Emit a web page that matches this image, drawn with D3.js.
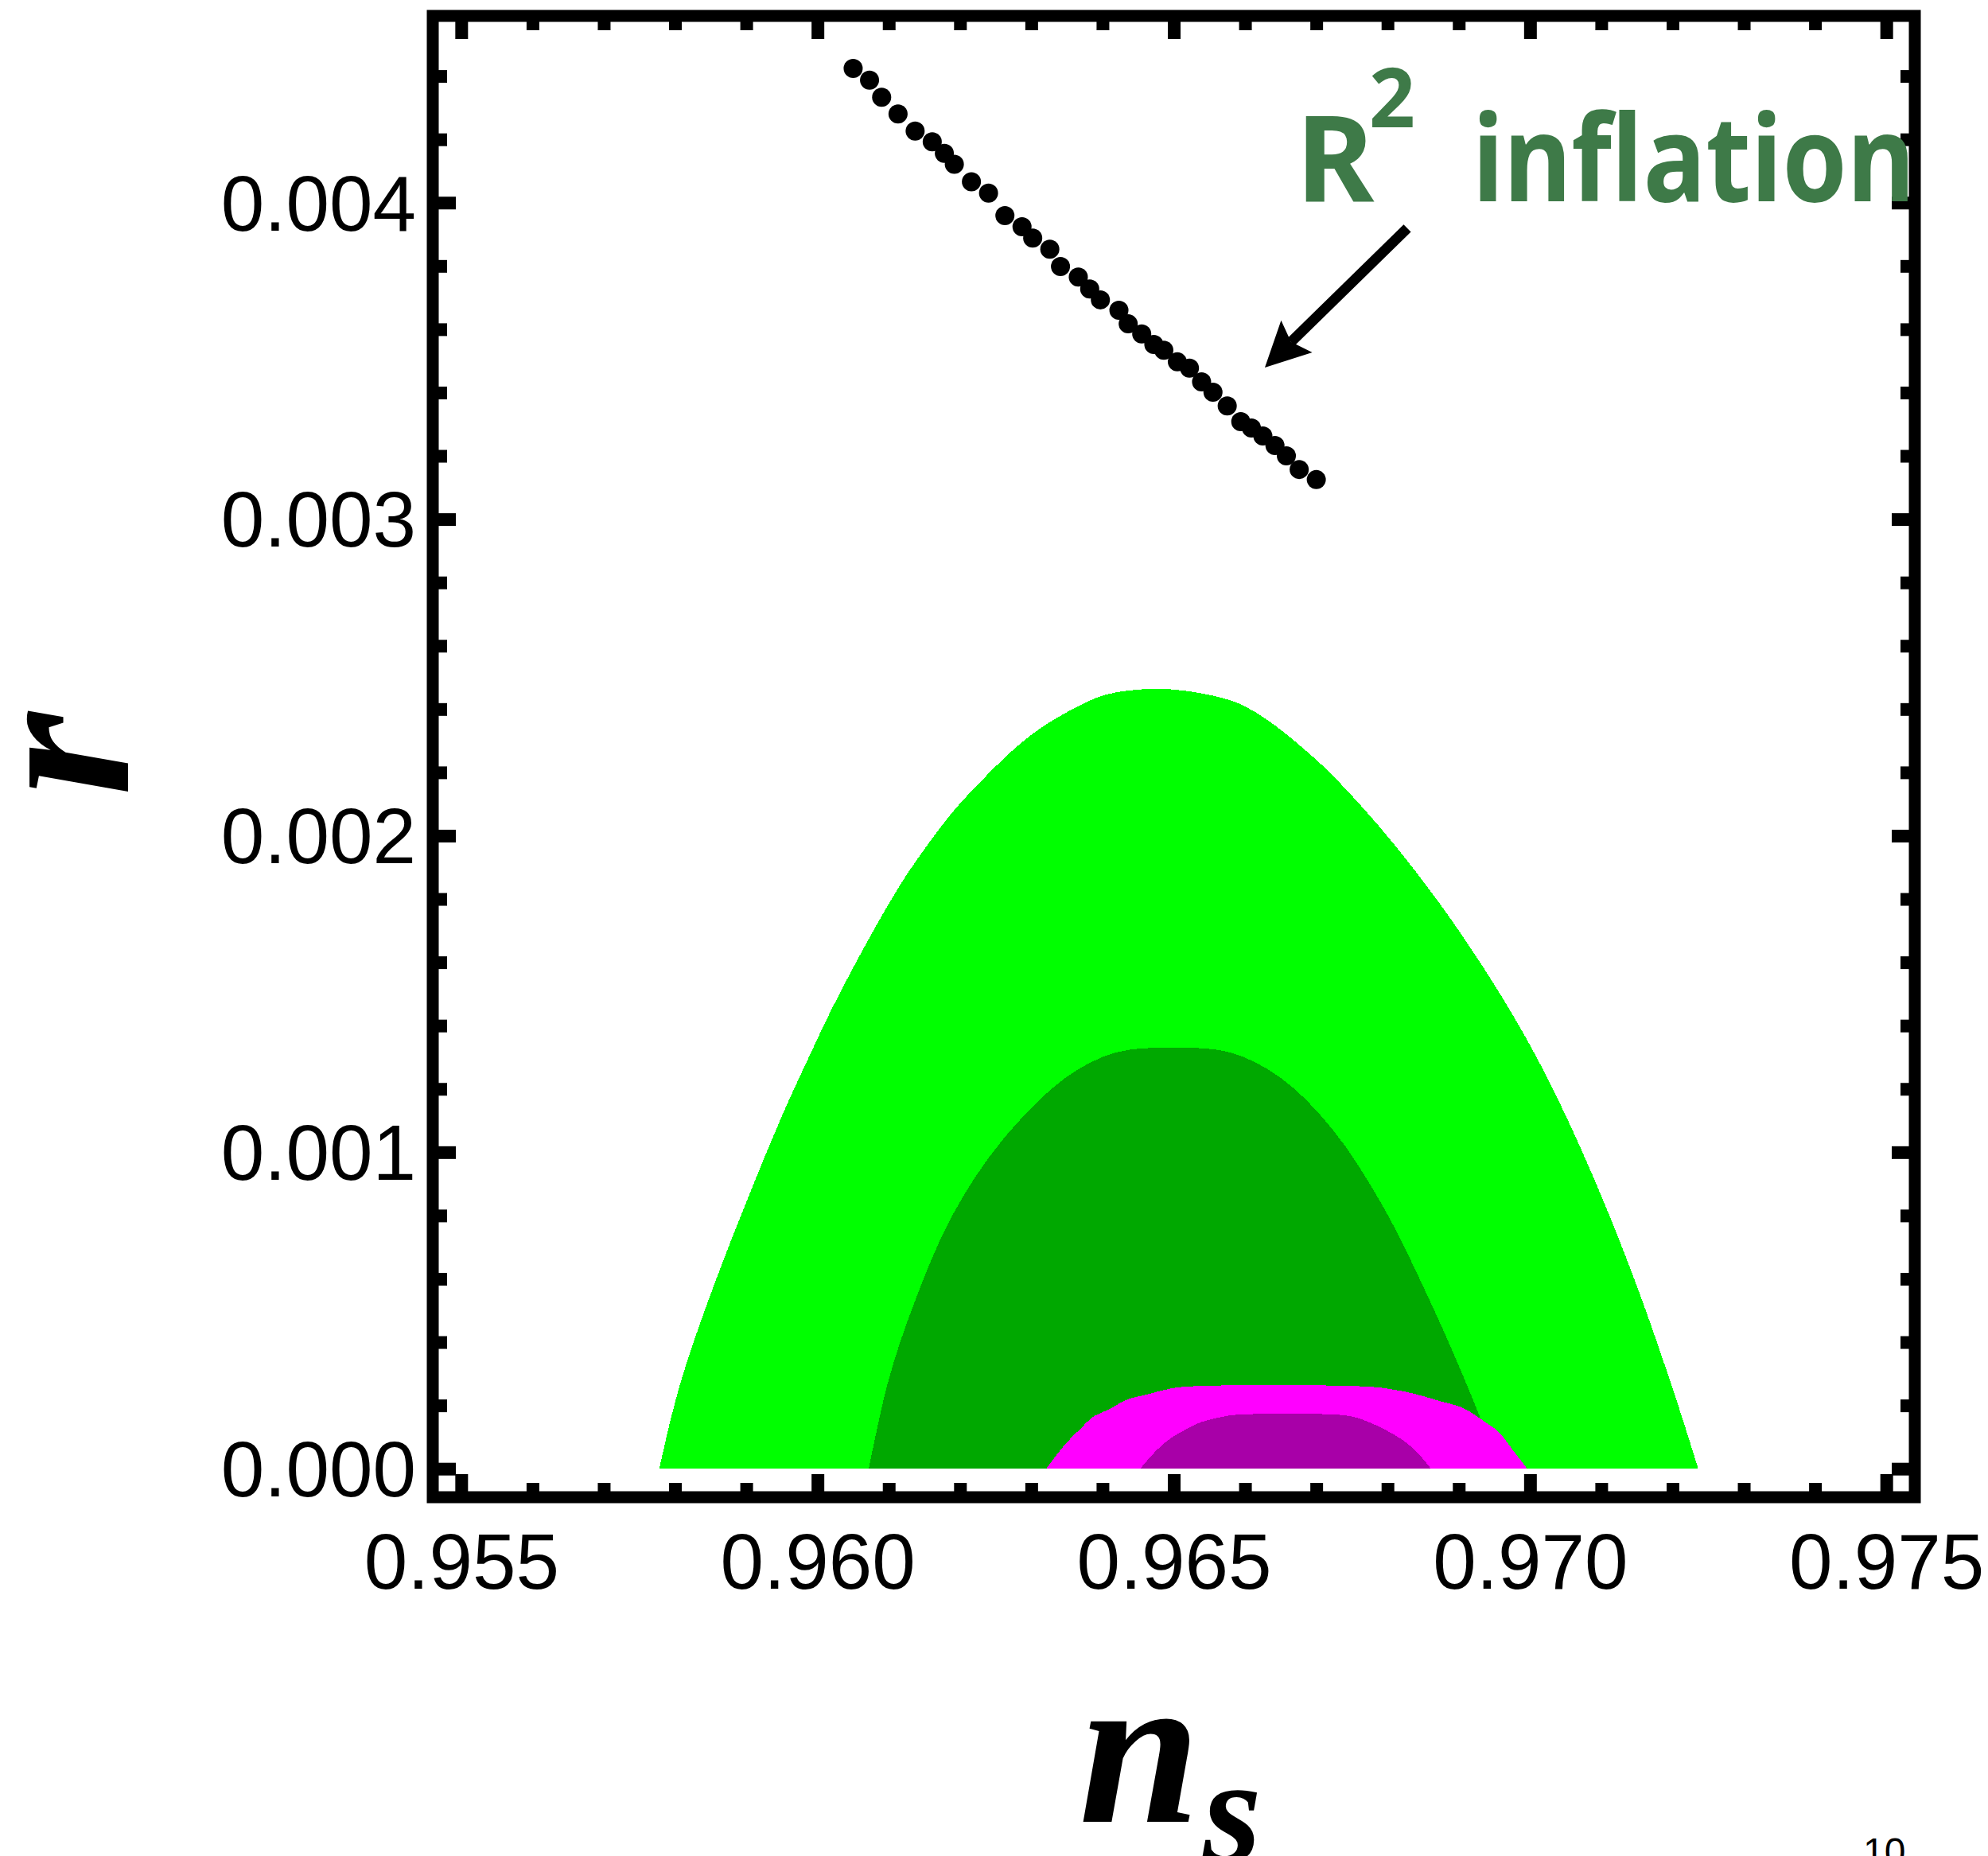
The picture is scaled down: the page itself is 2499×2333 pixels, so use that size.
<!DOCTYPE html>
<html>
<head>
<meta charset="utf-8">
<script src="https://cdn.jsdelivr.net/npm/d3@7"></script>
<style>
  html, body { margin: 0; padding: 0; background: #ffffff; }
  svg { display: block; }
</style>
</head>
<body>
<svg id="chart" width="2499" height="2333"></svg>
<script>
// ---- data ---------------------------------------------------------------
// R^2 inflation predictions (n_s, r)
const r2Ns = [0.96050, 0.96073, 0.96090, 0.96113, 0.96137, 0.96161, 0.96178, 0.96192,
              0.96216, 0.96240, 0.96263, 0.96287, 0.96302, 0.96326, 0.96341, 0.96366,
              0.96382, 0.96397, 0.96423, 0.96436, 0.96455, 0.96472, 0.96486, 0.96505,
              0.96522, 0.96539, 0.96555, 0.96575, 0.96594, 0.96609, 0.96625, 0.96642,
              0.96658, 0.96676, 0.96700];
const r2R  = [0.004424, 0.004387, 0.004333, 0.004280, 0.004226, 0.004192, 0.004156, 0.004121,
              0.004066, 0.004030, 0.003959, 0.003924, 0.003888, 0.003853, 0.003798, 0.003765,
              0.003727, 0.003693, 0.003660, 0.003617, 0.003585, 0.003552, 0.003534, 0.003497,
              0.003477, 0.003434, 0.003401, 0.003358, 0.003308, 0.003288, 0.003263, 0.003233,
              0.003200, 0.003157, 0.003125];

// outer (light green) allowed region boundary
const outerNs = [0.95778, 0.95795, 0.95815, 0.95857, 0.95905, 0.95949, 0.95994, 0.96019,
                 0.96046, 0.96072, 0.96104, 0.96127, 0.96156, 0.96184, 0.96207, 0.96278,
                 0.96322, 0.96374, 0.96402, 0.96438, 0.96475, 0.96512, 0.96563, 0.96596,
                 0.96633, 0.96678, 0.96723, 0.96808, 0.96908, 0.97002, 0.97073, 0.97143,
                 0.97203, 0.97236];
const outerR  = [0, 0.000166, 0.000325, 0.000594, 0.000870, 0.001109, 0.001330, 0.001448,
                 0.001566, 0.001674, 0.001800, 0.001883, 0.001976, 0.002059, 0.002119, 0.002278,
                 0.002353, 0.002418, 0.002444, 0.002459, 0.002464, 0.002459, 0.002438, 0.002413,
                 0.002363, 0.002283, 0.002190, 0.001976, 0.001674, 0.001330, 0.001003, 0.000619,
                 0.000234, 0];

// inner (dark green) region boundary
const innerNs = [0.96072, 0.96099, 0.96134, 0.96188, 0.96258, 0.96348, 0.96419, 0.96498,
                 0.96579, 0.96650, 0.96722, 0.96792, 0.96863, 0.96917, 0.96958];
const innerR  = [0, 0.000274, 0.000513, 0.000795, 0.001034, 0.001235, 0.001315, 0.001330,
                 0.001315, 0.001235, 0.001074, 0.000835, 0.000513, 0.000234, 0];

// future-sensitivity regions (magenta, dark magenta)
const magNs = [0.96321, 0.96348, 0.96368, 0.96388, 0.96408, 0.96433, 0.96467, 0.96487, 0.96515,
               0.96776, 0.96811, 0.96837, 0.96876, 0.96906, 0.96936, 0.96956, 0.96976, 0.96996];
const magR  = [0, 0.0000784, 0.000124, 0.000166, 0.000186, 0.000217, 0.000237, 0.000249, 0.000259,
               0.000259, 0.000249, 0.000237, 0.000212, 0.000192, 0.000149, 0.000116, 0.0000583, 0];

const dmagNs = [0.96453, 0.96477, 0.96497, 0.96517, 0.96537, 0.96568, 0.96592,
                0.96727, 0.96752, 0.96772, 0.96796, 0.96821, 0.96841, 0.96861];
const dmagR  = [0, 0.0000608, 0.0000985, 0.000124, 0.000146, 0.000164, 0.000171,
                0.000171, 0.000164, 0.000149, 0.000124, 0.0000910, 0.0000528, 0];

// ticks
const xMajor = [0.955, 0.960, 0.965, 0.970, 0.975];
const xMajorLabels = ["0.955", "0.960", "0.965", "0.970", "0.975"];
const xMinor = [0.956, 0.957, 0.958, 0.959, 0.961, 0.962, 0.963, 0.964,
                0.966, 0.967, 0.968, 0.969, 0.971, 0.972, 0.973, 0.974];
const yMajor = [0.000, 0.001, 0.002, 0.003, 0.004];
const yMajorLabels = ["0.000", "0.001", "0.002", "0.003", "0.004"];
const yMinor = [0.0002, 0.0004, 0.0006, 0.0008, 0.0012, 0.0014, 0.0016, 0.0018,
                0.0022, 0.0024, 0.0026, 0.0028, 0.0032, 0.0034, 0.0036, 0.0038,
                0.0042, 0.0044];

// annotation anchors (data space)
const labelText = "inflation";
const labelAt = [0.966714, 0.004004];
const arrowFrom = [0.968277, 0.003919];
const arrowTo = [0.966278, 0.003479];

// ---- layout -------------------------------------------------------------
const frame = { left: 544, right: 2407, top: 20, bottom: 1882 };
const svg = d3.select("#chart");

const x = d3.scaleLinear().domain([0.9546, 0.9754]).range([frame.left, frame.right]);
const y = d3.scaleLinear().domain([-0.00009, 0.00459]).range([frame.bottom, frame.top]);

svg.append("defs").append("clipPath").attr("id", "plotClip")
  .append("rect")
  .attr("x", frame.left).attr("y", frame.top)
  .attr("width", frame.right - frame.left).attr("height", frame.bottom - frame.top);

const plot = svg.append("g").attr("clip-path", "url(#plotClip)");

// filled regions, each bounded below by r = 0
const area = d3.area()
  .x(d => x(d[0]))
  .y0(y(0))
  .y1(d => y(d[1]))
  .curve(d3.curveCatmullRom.alpha(0.5));

const regions = [
  { ns: outerNs, r: outerR, fill: "#00ff00" },
  { ns: innerNs, r: innerR, fill: "#00a800" },
  { ns: magNs,   r: magR,   fill: "#ff00ff" },
  { ns: dmagNs,  r: dmagR,  fill: "#a800a8" }
];
regions.forEach(reg => {
  plot.append("path")
    .datum(reg.ns.map((v, i) => [v, reg.r[i]]))
    .attr("d", area)
    .attr("fill", reg.fill)
    .attr("shape-rendering", "crispEdges");
});

// R^2 inflation points
plot.append("g").selectAll("circle")
  .data(r2Ns.map((v, i) => [v, r2R[i]]))
  .join("circle")
  .attr("cx", d => x(d[0]))
  .attr("cy", d => y(d[1]))
  .attr("r", 12)
  .attr("fill", "#000");

// ---- frame and ticks ----------------------------------------------------
const MAJ = 29, MIN = 18, TICKW = 16;

function styleTicks(g) {
  g.select(".domain").remove();
  g.selectAll(".tick line").attr("stroke", "#000").attr("stroke-width", TICKW);
}

// bottom
svg.append("g").attr("transform", `translate(0,${frame.bottom})`)
  .call(d3.axisBottom(x).tickValues(xMinor).tickSize(-MIN).tickFormat(""))
  .call(styleTicks);
const xAxisG = svg.append("g").attr("transform", `translate(0,${frame.bottom})`)
  .call(d3.axisBottom(x).tickValues(xMajor).tickSize(-MAJ)
        .tickFormat((d, i) => xMajorLabels[i]))
  .call(styleTicks);
xAxisG.selectAll(".tick text")
  .attr("y", 115).attr("dy", 0)
  .attr("fill", "#000")
  .style("font-family", "'Liberation Sans', Arial, sans-serif")
  .style("font-size", "98px");

// top (mirrored, no labels)
svg.append("g").attr("transform", `translate(0,${frame.top})`)
  .call(d3.axisTop(x).tickValues(xMinor).tickSize(-MIN).tickFormat(""))
  .call(styleTicks);
svg.append("g").attr("transform", `translate(0,${frame.top})`)
  .call(d3.axisTop(x).tickValues(xMajor).tickSize(-MAJ).tickFormat(""))
  .call(styleTicks);

// left
svg.append("g").attr("transform", `translate(${frame.left},0)`)
  .call(d3.axisLeft(y).tickValues(yMinor).tickSize(-MIN).tickFormat(""))
  .call(styleTicks);
const yAxisG = svg.append("g").attr("transform", `translate(${frame.left},0)`)
  .call(d3.axisLeft(y).tickValues(yMajor).tickSize(-MAJ)
        .tickFormat((d, i) => yMajorLabels[i]))
  .call(styleTicks);
yAxisG.selectAll(".tick text")
  .attr("x", -21).attr("dy", "0.35em")
  .attr("fill", "#000")
  .style("font-family", "'Liberation Sans', Arial, sans-serif")
  .style("font-size", "98px");

// right (mirrored, no labels)
svg.append("g").attr("transform", `translate(${frame.right},0)`)
  .call(d3.axisRight(y).tickValues(yMinor).tickSize(-MIN).tickFormat(""))
  .call(styleTicks);
svg.append("g").attr("transform", `translate(${frame.right},0)`)
  .call(d3.axisRight(y).tickValues(yMajor).tickSize(-MAJ).tickFormat(""))
  .call(styleTicks);

svg.append("rect")
  .attr("x", frame.left).attr("y", frame.top)
  .attr("width", frame.right - frame.left).attr("height", frame.bottom - frame.top)
  .attr("fill", "none").attr("stroke", "#000").attr("stroke-width", 15);

// ---- axis titles ----------------------------------------------------------
const serif = "'Liberation Serif', 'DejaVu Serif', serif";
svg.append("text")
  .attr("transform", "translate(161,948) rotate(-90)")
  .attr("text-anchor", "middle")
  .style("font-family", serif)
  .style("font-style", "italic").style("font-weight", "bold")
  .style("font-size", "270px")
  .text("r");

svg.append("text").attr("x", 1356).attr("y", 2290)
  .style("font-family", serif)
  .style("font-style", "italic").style("font-weight", "bold")
  .style("font-size", "275px").text("n");
svg.append("text").attr("x", 1512).attr("y", 2340)
  .style("font-family", serif)
  .style("font-style", "italic").style("font-weight", "bold")
  .style("font-size", "190px").text("s");

// ---- annotation -----------------------------------------------------------
const green = "#3e7a48";
const lx = x(labelAt[0]), ly = y(labelAt[1]);
const ann = svg.append("g")
  .style("font-family", "'Comic Sans MS', 'Noto Sans', sans-serif")
  .style("font-weight", "bold")
  .attr("fill", green);
ann.append("text").attr("x", lx).attr("y", ly).style("font-size", "150px").text("R");
ann.append("text").attr("x", lx + 92).attr("y", ly - 93)
  .style("font-size", "104px")
  .attr("textLength", 58).attr("lengthAdjust", "spacingAndGlyphs")
  .text("2");
ann.append("text").attr("x", lx + 222).attr("y", ly)
  .style("font-size", "150px")
  .attr("textLength", 556).attr("lengthAdjust", "spacingAndGlyphs")
  .text(labelText);

// arrow pointing at the R^2 points
const ax0 = x(arrowFrom[0]), ay0 = y(arrowFrom[1]);
const ax1 = x(arrowTo[0]), ay1 = y(arrowTo[1]);
const ang = Math.atan2(ay1 - ay0, ax1 - ax0);
const headLen = 56, headHalf = 28, notch = 10;
const ux = Math.cos(ang), uy = Math.sin(ang);
const bx = ax1 - ux * headLen, by = ay1 - uy * headLen;
svg.append("line")
  .attr("x1", ax0).attr("y1", ay0)
  .attr("x2", bx + ux * notch).attr("y2", by + uy * notch)
  .attr("stroke", "#000").attr("stroke-width", 13);
svg.append("path")
  .attr("d", d3.line()([
    [ax1, ay1],
    [bx - uy * headHalf, by + ux * headHalf],
    [bx + ux * notch, by + uy * notch],
    [bx + uy * headHalf, by - ux * headHalf]
  ]) + "Z")
  .attr("fill", "#000");

// page number
svg.append("text")
  .attr("x", 2342).attr("y", 2344)
  .style("font-family", "'Liberation Sans', Arial, sans-serif")
  .style("font-size", "48px")
  .text("10");
</script>
</body>
</html>
